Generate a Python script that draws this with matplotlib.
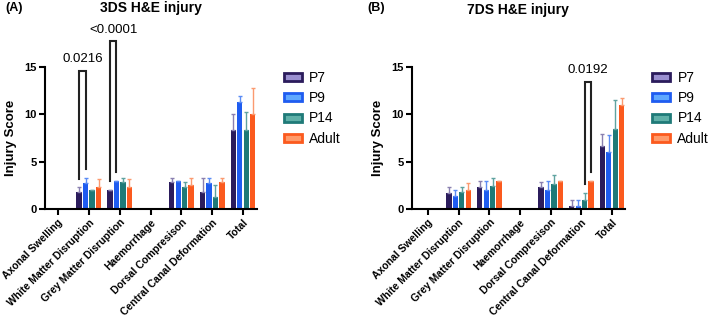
import numpy as np
import matplotlib.pyplot as plt

plt.rcParams['font.family'] = ['Liberation Sans', 'DejaVu Sans']

categories = ['Axonal Swelling', 'White Matter Disruption', 'Grey Matter Disruption',
              'Haemorrhage', 'Dorsal Compresison', 'Central Canal Deformation', 'Total']
groups = ['P7', 'P9', 'P14', 'Adult']

# 3DS means and upper error values (SD)
a_mean = {
    'P7':    [0, 1.8, 2.0, 0, 2.8, 1.8, 8.3],
    'P9':    [0, 2.7, 3.0, 0, 3.0, 2.7, 11.3],
    'P14':   [0, 2.0, 2.8, 0, 2.3, 1.3, 8.3],
    'Adult': [0, 2.3, 2.3, 0, 2.5, 2.8, 10.0],
}
a_err = {
    'P7':    [0, 0.5, 0.0, 0, 0.5, 1.5, 1.7],
    'P9':    [0, 0.6, 0.0, 0, 0.0, 0.6, 0.6],
    'P14':   [0, 0.0, 0.5, 0, 0.5, 1.2, 1.9],
    'Adult': [0, 0.9, 0.9, 0, 0.8, 0.5, 2.8],
}
# 7DS
b_mean = {
    'P7':    [0, 1.7, 2.3, 0, 2.3, 0.3, 6.7],
    'P9':    [0, 1.4, 2.0, 0, 2.0, 0.3, 6.0],
    'P14':   [0, 1.8, 2.4, 0, 2.6, 1.0, 8.4],
    'Adult': [0, 2.0, 3.0, 0, 3.0, 3.0, 11.0],
}
b_err = {
    'P7':    [0, 0.6, 0.7, 0, 0.6, 0.7, 1.2],
    'P9':    [0, 0.6, 1.0, 0, 1.0, 0.7, 1.8],
    'P14':   [0, 0.5, 0.9, 0, 1.0, 0.7, 3.1],
    'Adult': [0, 0.7, 0.0, 0, 0.0, 0.0, 0.7],
}

colors = {'P7': '#2b1c5c', 'P9': '#1f5cf0', 'P14': '#1f7a78', 'Adult': '#fb5a1e'}
err_colors = {'P7': '#8a80b0', 'P9': '#5b8cf5', 'P14': '#5fa3a0', 'Adult': '#fb9a70'}
light = {'P7': '#9a8fd0', 'P9': '#5fa8ff', 'P14': '#5fb0a8', 'Adult': '#ff9a6a'}

offsets = [-0.315, -0.105, 0.105, 0.315]
width = 0.17

fig = plt.figure(figsize=(7.09, 3.19), dpi=100)
axA = fig.add_axes([45 / 709, 1 - 209 / 319, 212 / 709, 142 / 319])
axB = fig.add_axes([412 / 709, 1 - 209 / 319, 213 / 709, 142 / 319])


def draw(ax, means, errs, xlim):
    x = np.arange(len(categories))
    for g, off in zip(groups, offsets):
        ax.bar(x + off, means[g], width, color=colors[g], label=g)
        ax.errorbar(x + off, means[g], yerr=[np.zeros(len(x)), errs[g]], fmt='none',
                    ecolor=err_colors[g], elinewidth=1, capsize=1.5, capthick=1)
    ax.set_xlim(*xlim)
    ax.set_ylim(0, 15)
    ax.set_yticks([0, 5, 10, 15])
    ax.set_xticks(x)
    ax.set_xticklabels(categories, rotation=45, ha='right', rotation_mode='anchor',
                       fontsize=7.5, fontweight='bold')
    for lab in ax.get_yticklabels():
        lab.set_fontweight('bold')
        lab.set_fontsize(8)
    ax.set_ylabel('Injury Score', fontsize=9.5, fontweight='bold', labelpad=5)
    ax.spines['top'].set_visible(False)
    ax.spines['right'].set_visible(False)
    ax.spines['left'].set_linewidth(1.5)
    ax.spines['bottom'].set_linewidth(1.5)
    ax.tick_params(width=1.5, length=4, pad=2)
    leg = ax.legend(loc='upper left', bbox_to_anchor=(1.07, 1.06), frameon=False,
                    fontsize=10, handlelength=1.3, handleheight=0.5, labelspacing=0.45,
                    handletextpad=0.5)
    for h, g in zip(leg.legend_handles, groups):
        h.set_facecolor(light[g])
        h.set_edgecolor(colors[g])
        h.set_linewidth(2)


def bracket(ax, x1, y1, x2, y2, top, label):
    ax.plot([x1, x1, x2, x2], [y1, top, top, y2], color='#222222', lw=1.5,
            clip_on=False, solid_joinstyle='miter')
    ax.text((x1 + x2) / 2, top + 0.6, label, ha='center', va='bottom', fontsize=9.5)


draw(axA, a_mean, a_err, (-0.42, 6.45))
draw(axB, b_mean, b_err, (-0.52, 6.42))

bracket(axA, 1 - 0.315, 3.2, 1 - 0.105, 4.2, 14.6, '0.0216')
bracket(axA, 2 - 0.315, 3.0, 2 - 0.105, 3.9, 17.7, '<0.0001')
bracket(axB, 5 + 0.105, 2.6, 5 + 0.315, 3.9, 13.4, '0.0192')

fig.text(151 / 709, 1 - 8 / 319, '3DS H&E injury', fontsize=10, fontweight='bold',
         ha='center', va='center')
fig.text(518 / 709, 1 - 10 / 319, '7DS H&E injury', fontsize=10, fontweight='bold',
         ha='center', va='center')
fig.text(5 / 709, 1 - 8 / 319, '(A)', fontsize=9, fontweight='bold', va='center')
fig.text(367 / 709, 1 - 8 / 319, '(B)', fontsize=9, fontweight='bold', va='center')

fig.savefig('out.png', dpi=100)
